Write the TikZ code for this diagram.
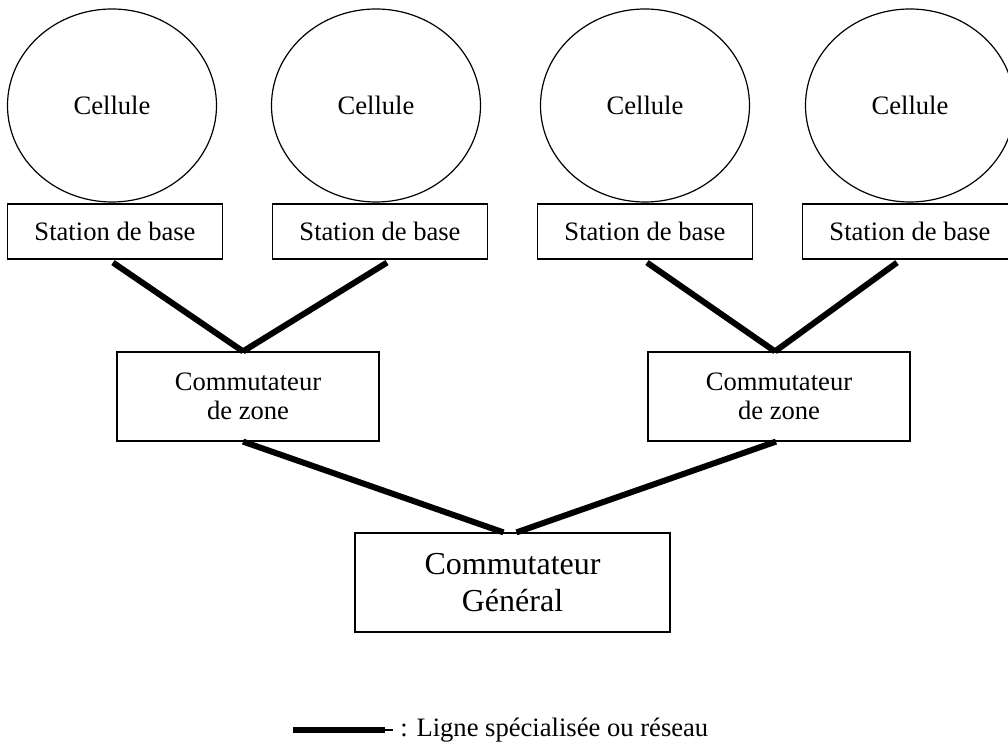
\documentclass[tikz,border=0pt]{standalone}
\usepackage{fontspec}
\setmainfont{Liberation Serif}
\usetikzlibrary{shapes.geometric}

\begin{document}
\begin{tikzpicture}[x=0.5pt, y=-0.5pt, line width=0.6pt,
    cell/.style={draw, ellipse, minimum width=104.5pt, minimum height=96.5pt, inner sep=0pt, font=\fontsize{13.3}{16}\selectfont},
    station/.style={draw, minimum width=107.5pt, minimum height=27.5pt, inner sep=0pt, font=\fontsize{13.3}{16}\selectfont},
    zone/.style={draw, minimum width=131pt, minimum height=44.5pt, inner sep=0pt, align=center, font=\fontsize{13.3}{14.5}\selectfont},
    general/.style={draw, minimum width=157.5pt, minimum height=49.5pt, inner sep=0pt, align=center, font=\fontsize{16}{18.5}\selectfont},
    link/.style={line width=3pt}]
    \useasboundingbox (0, 0) rectangle (1008, 742);

    \foreach \i/\cx/\sx in {1/112/115, 2/376/380, 3/645/645, 4/910/910} {
        \node[cell] (cell\i) at (\cx, 105.5) {Cellule};
        \node[station] (station\i) at (\sx, 231.5) {Station de base};
    }

    \node[zone] (zone1) at (248, 396.5) {Commutateur\\de zone};
    \node[zone] (zone2) at (779, 396.5) {Commutateur\\de zone};
    \node[general] (general) at (512.5, 582.5) {Commutateur\\Général};

    \foreach \s/\z/\ds/\dz in {1/1/-1/-2.5, 2/1/3.5/-2.5, 3/2/1/-2, 4/2/-6.5/-2} {
        \draw[link] ([xshift=\ds pt, yshift=-1.5pt]station\s.south) -- ([xshift=\dz pt]zone\z.north);
    }
    \draw[link] ([xshift=-2.5pt]zone1.south) -- ([xshift=-4.5pt]general.north);
    \draw[link] ([xshift=-1.5pt]zone2.south) -- ([xshift=2pt]general.north);

    \coordinate (key) at (293, 730);
    \coordinate (keyend) at (385, 730);
    \node[anchor=west, font=\fontsize{13.3}{16}\selectfont] (keytext) at (393, 730) {: Ligne spécialisée ou réseau};
    \draw[link] (key) -- (keyend);
    \draw (keyend) -- (keytext.west);
\end{tikzpicture}
\end{document}
